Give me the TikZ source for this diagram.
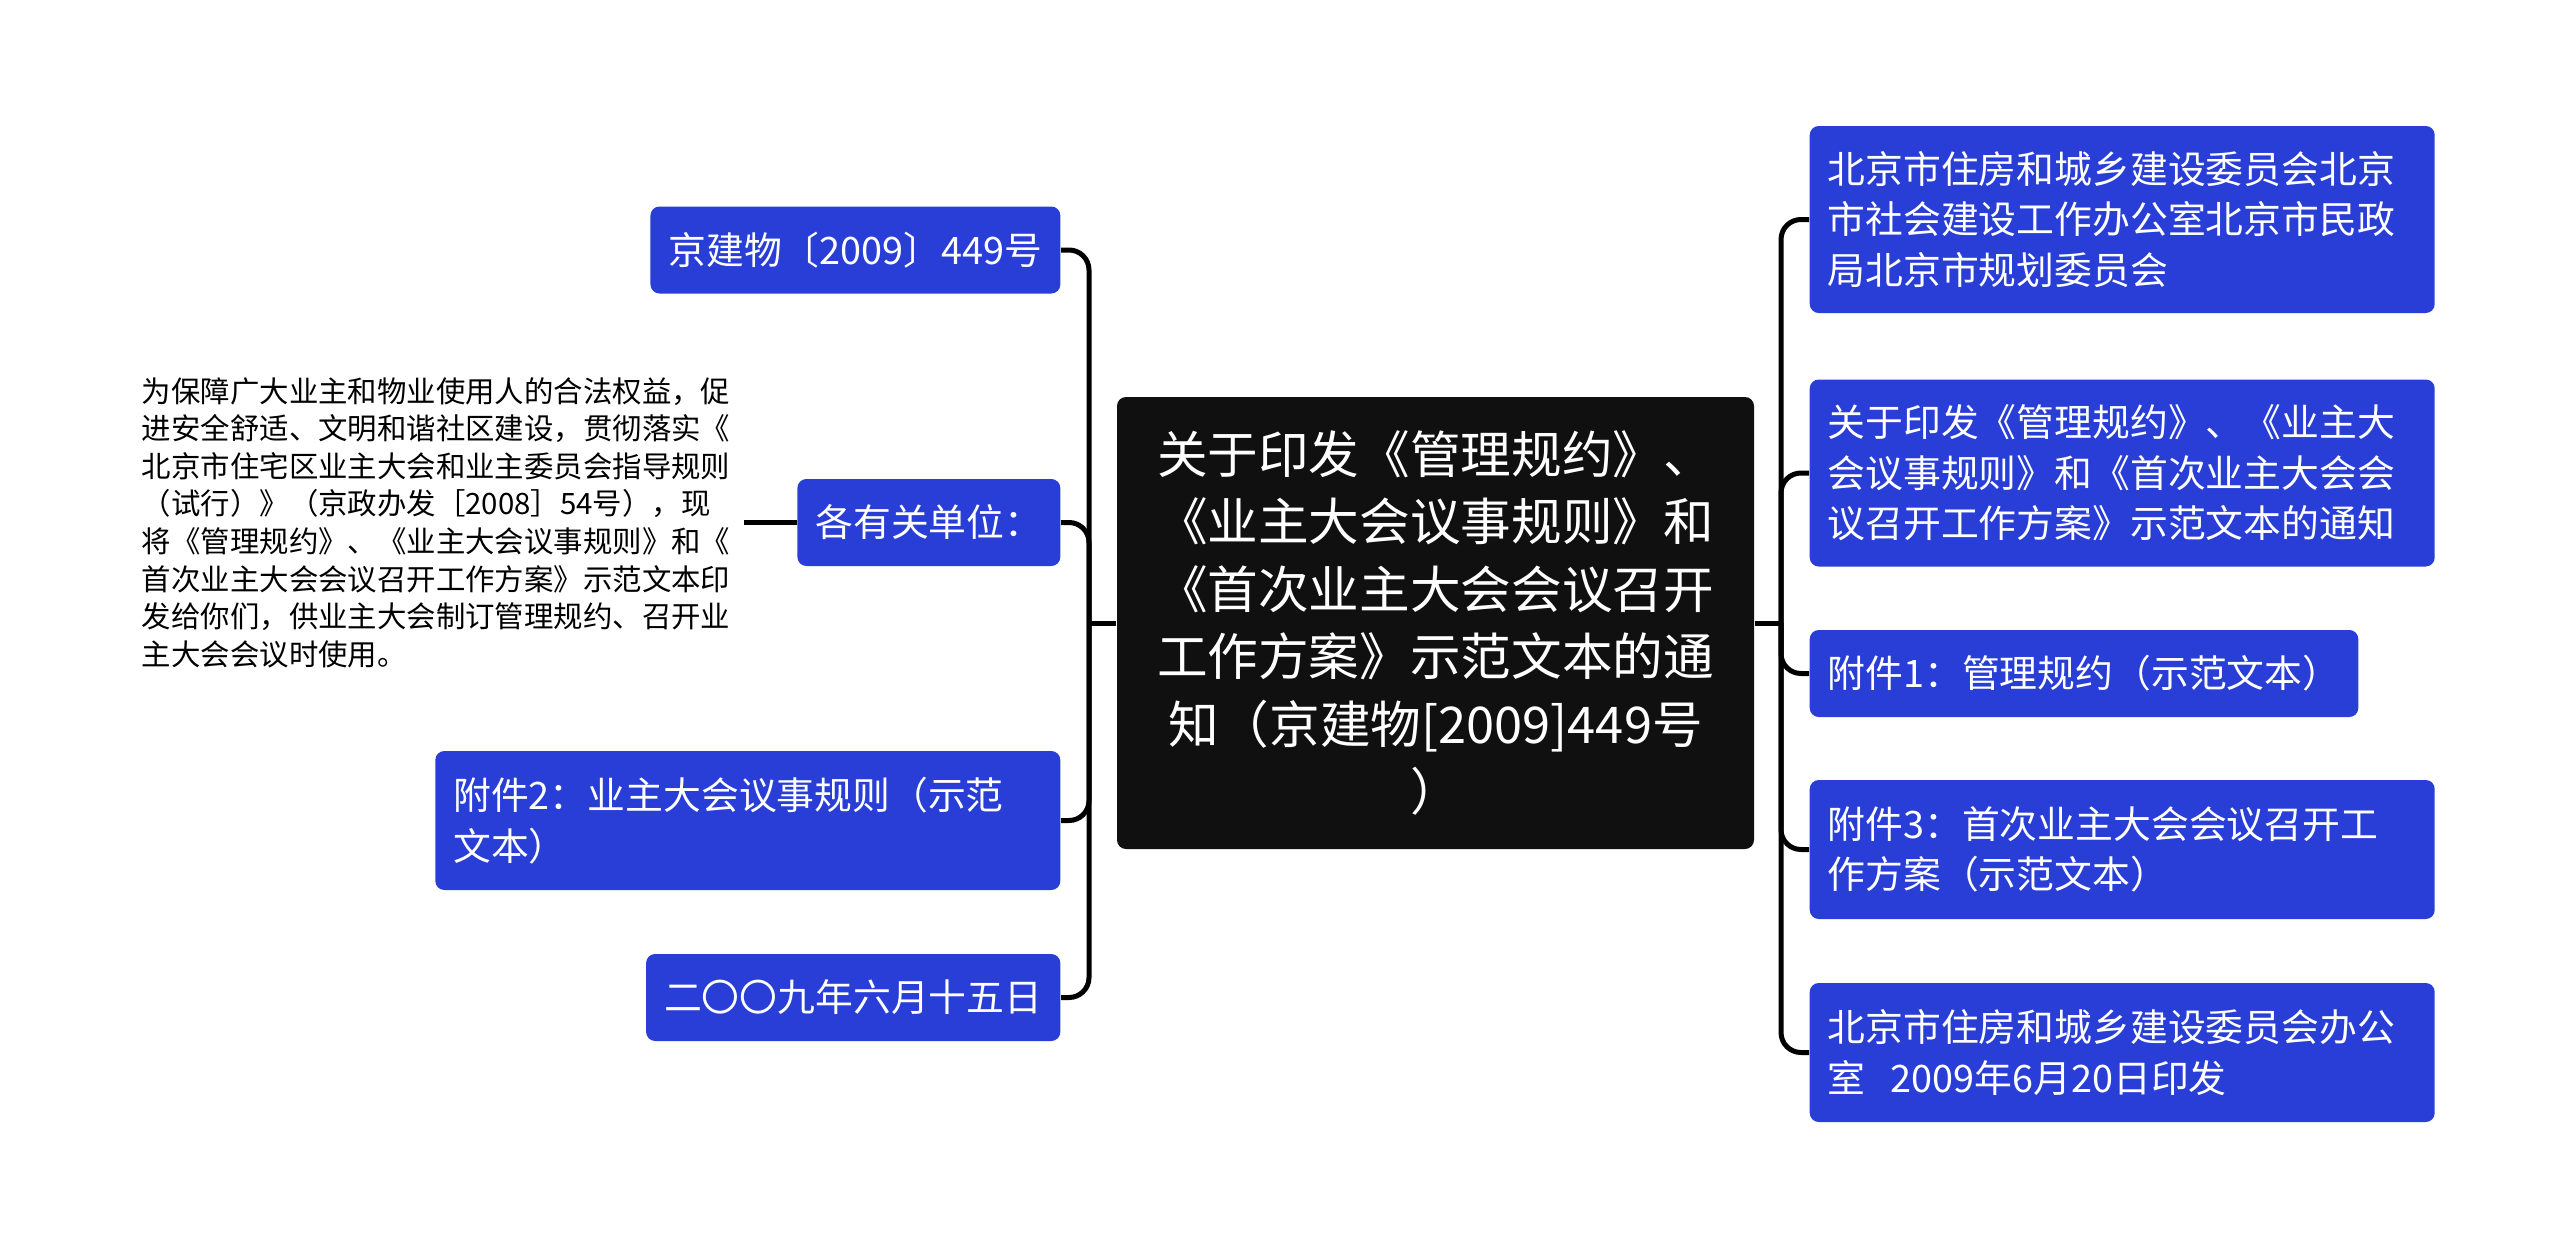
\documentclass[tikz,border=0pt]{standalone}
\usepackage{fontspec}
\setmainfont{Noto Sans CJK SC}
\usepackage{xcolor}
\definecolor{topicblue}{RGB}{40,62,215}
\definecolor{rootblack}{RGB}{16,16,16}

\begin{document}
\begin{tikzpicture}[
    every node/.style={font=\fontsize{10.76pt}{14.4pt}\selectfont},
    topic/.style={fill=topicblue, text=white, rounded corners=0.09cm,
      inner xsep=0.18cm, inner ysep=0pt, align=left},
    onerow/.style={topic, minimum height=0.87cm},
    tworow/.style={topic, minimum height=1.39cm, text width=5.89cm},
    threerow/.style={topic, minimum height=1.87cm, text width=5.89cm},
    link/.style={line width=0.05cm, rounded corners=0.2cm},
  ]
    \def\Lx{10.61}                          % 左侧节点右边缘
    \def\Rx{18.09}                          % 右侧节点左边缘
    \useasboundingbox (0,0) rectangle (25.60,-12.47);

    % 中心主题
    \node[fill=rootblack, text=white, rounded corners=0.09cm,
      minimum width=6.37cm, minimum height=4.52cm, align=center,
      font=\fontsize{14.4pt}{19.2pt}\selectfont] (root) at (14.355,-6.23)
      {关于印发《管理规约》、\\《业主大会议事规则》和\\《首次业主大会会议召开\\工作方案》示范文本的通\\知（京建物[2009]449号\\）};

    % 两侧干线
    \coordinate (trunkL) at (10.89,-6.23);
    \coordinate (trunkR) at (17.81,-6.23);

    % 左侧分支
    \node[onerow, anchor=east] (jianwu)  at (\Lx,-2.50)  {京建物〔2009〕449号};
    \node[onerow, anchor=east] (danwei)  at (\Lx,-5.225) {各有关单位：};
    \node[tworow, anchor=east] (fujian2) at (\Lx,-8.205) {附件2：业主大会议事规则（示范\\文本）};
    \node[onerow, anchor=east] (riqi)    at (\Lx,-9.975) {二〇〇九年六月十五日};

    % 各有关单位下的正文
    \node[font=\fontsize{8.37pt}{10.7pt}\selectfont, align=left,
      inner xsep=0.13cm, anchor=east] (zhengwen) at (7.44,-5.225)
      {为保障广大业主和物业使用人的合法权益，促\\进安全舒适、文明和谐社区建设，贯彻落实《\\北京市住宅区业主大会和业主委员会指导规则\\（试行）》（京政办发［2008］54号），现\\将《管理规约》、《业主大会议事规则》和《\\首次业主大会会议召开工作方案》示范文本印\\发给你们，供业主大会制订管理规约、召开业\\主大会会议时使用。};

    % 右侧分支
    \node[threerow, anchor=west] (weiyuanhui) at (\Rx,-2.195)
      {北京市住房和城乡建设委员会北京\\市社会建设工作办公室北京市民政\\局北京市规划委员会};
    \node[threerow, anchor=west] (tongzhi) at (\Rx,-4.73)
      {关于印发《管理规约》、《业主大\\会议事规则》和《首次业主大会会\\议召开工作方案》示范文本的通知};
    \node[onerow, anchor=west] (fujian1) at (\Rx,-6.735) {附件1：管理规约（示范文本）};
    \node[tworow, anchor=west] (fujian3) at (\Rx,-8.495)
      {附件3：首次业主大会会议召开工\\作方案（示范文本）};
    \node[tworow, anchor=west] (yinfa) at (\Rx,-10.525)
      {北京市住房和城乡建设委员会办公\\室\ \ 2009年6月20日印发};

    % 连线
    \draw[link] (root.west) -- (trunkL);
    \foreach \n in {jianwu, danwei, fujian2, riqi}
      \draw[link] (\n.east) -| (trunkL);
    \draw[link] (root.east) -- (trunkR);
    \foreach \n in {weiyuanhui, tongzhi, fujian1, fujian3, yinfa}
      \draw[link] (\n.west) -| (trunkR);
    \draw[link] (danwei.west) -- (zhengwen.east);
  \end{tikzpicture}
\end{document}
